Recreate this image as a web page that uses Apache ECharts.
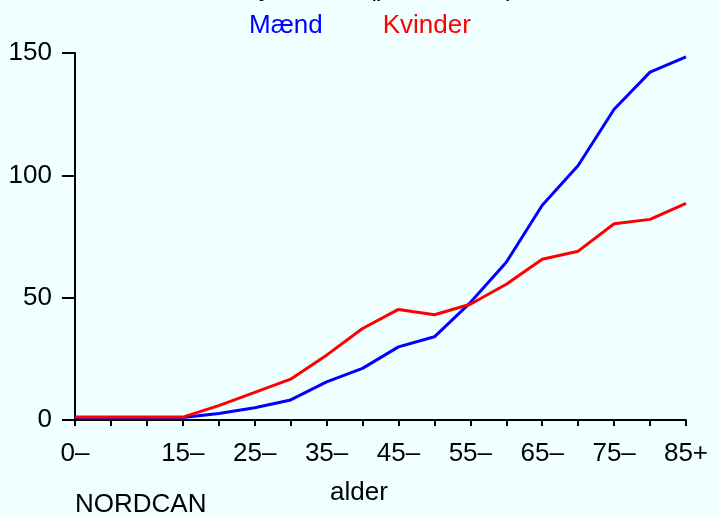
<!DOCTYPE html>
<html>
<head>
<meta charset="utf-8">
<script src="https://cdn.jsdelivr.net/npm/echarts@6/dist/echarts.min.js"></script>
<style>
  html, body { margin: 0; padding: 0; background: #f0ffff; }
  #chart { width: 718px; height: 515px; }
</style>
</head>
<body>
<div id="chart"></div>
<script>
// age groups, 5-year bands
var ageGroups = ["0–", "5–", "10–", "15–", "20–", "25–", "30–", "35–", "40–",
  "45–", "50–", "55–", "60–", "65–", "70–", "75–", "80–", "85+"];
var shownLabels = ["0–", "15–", "25–", "35–", "45–", "55–", "65–", "75–", "85+"];

// rate per 100 000
var maend = [1, 1, 1, 1, 2.7, 5, 8.2, 15.6, 21.1, 29.9, 34, 48, 64.5, 87.8, 104, 127, 142.2, 148.4];
var kvinder = [1.2, 1.2, 1.2, 1.2, 5.9, 11.3, 16.7, 26.5, 37.4, 45.2, 43, 47.3, 55.5, 65.7, 69, 80.2, 82, 88.5];

var yTicks = [0, 50, 100, 150];

var font = "'Liberation Sans', Arial, sans-serif";

var myChart = echarts.init(document.getElementById("chart"));
myChart.setOption({
  backgroundColor: "#f0ffff",
  animation: false,
  legend: {
    top: 8,
    left: 239,
    itemWidth: 0,
    itemHeight: 0,
    itemGap: 55,
    icon: "rect",
    selectedMode: false,
    textStyle: { fontFamily: font, fontSize: 26, padding: 0 },
    data: [
      { name: "Mænd", textStyle: { color: "#0000ff" } },
      { name: "Kvinder", textStyle: { color: "#ff0000" } }
    ]
  },
  graphic: [
    {
      type: "text", left: 240, top: -24,
      style: { text: "Nyre 2008 (pr. 100 000)", fontFamily: font, fontSize: 26, fill: "#000" }
    },
    {
      type: "text", left: 330, top: 480,
      style: { text: "alder", fontFamily: font, fontSize: 26, fill: "#000" }
    },
    {
      type: "text", left: 75, top: 492,
      style: { text: "NORDCAN", fontFamily: font, fontSize: 26, fill: "#000" }
    }
  ],
  grid: { left: 75, right: 32, top: 53, bottom: 95 },
  xAxis: {
    type: "category",
    data: ageGroups,
    boundaryGap: false,
    axisLine: { lineStyle: { color: "#000", width: 2 } },
    axisTick: { length: 6, interval: 0, lineStyle: { color: "#000", width: 2 } },
    axisLabel: {
      interval: function (i, v) { return shownLabels.indexOf(v) >= 0; },
      margin: 21,
      fontFamily: font,
      fontSize: 26,
      color: "#000"
    },
    splitLine: { show: false }
  },
  yAxis: {
    type: "value",
    min: yTicks[0],
    max: yTicks[yTicks.length - 1],
    interval: 50,
    axisLine: { show: true, lineStyle: { color: "#000", width: 2 } },
    axisTick: { show: true, length: 13, lineStyle: { color: "#000", width: 2 } },
    axisLabel: { margin: 23, fontFamily: font, fontSize: 26, color: "#000" },
    splitLine: { show: false }
  },
  series: [
    {
      name: "Mænd",
      type: "line",
      data: maend,
      symbol: "none",
      lineStyle: { color: "#0000ff", width: 3 },
      itemStyle: { color: "#0000ff" }
    },
    {
      name: "Kvinder",
      type: "line",
      data: kvinder,
      symbol: "none",
      lineStyle: { color: "#ff0000", width: 3 },
      itemStyle: { color: "#ff0000" }
    }
  ]
});
</script>
</body>
</html>
